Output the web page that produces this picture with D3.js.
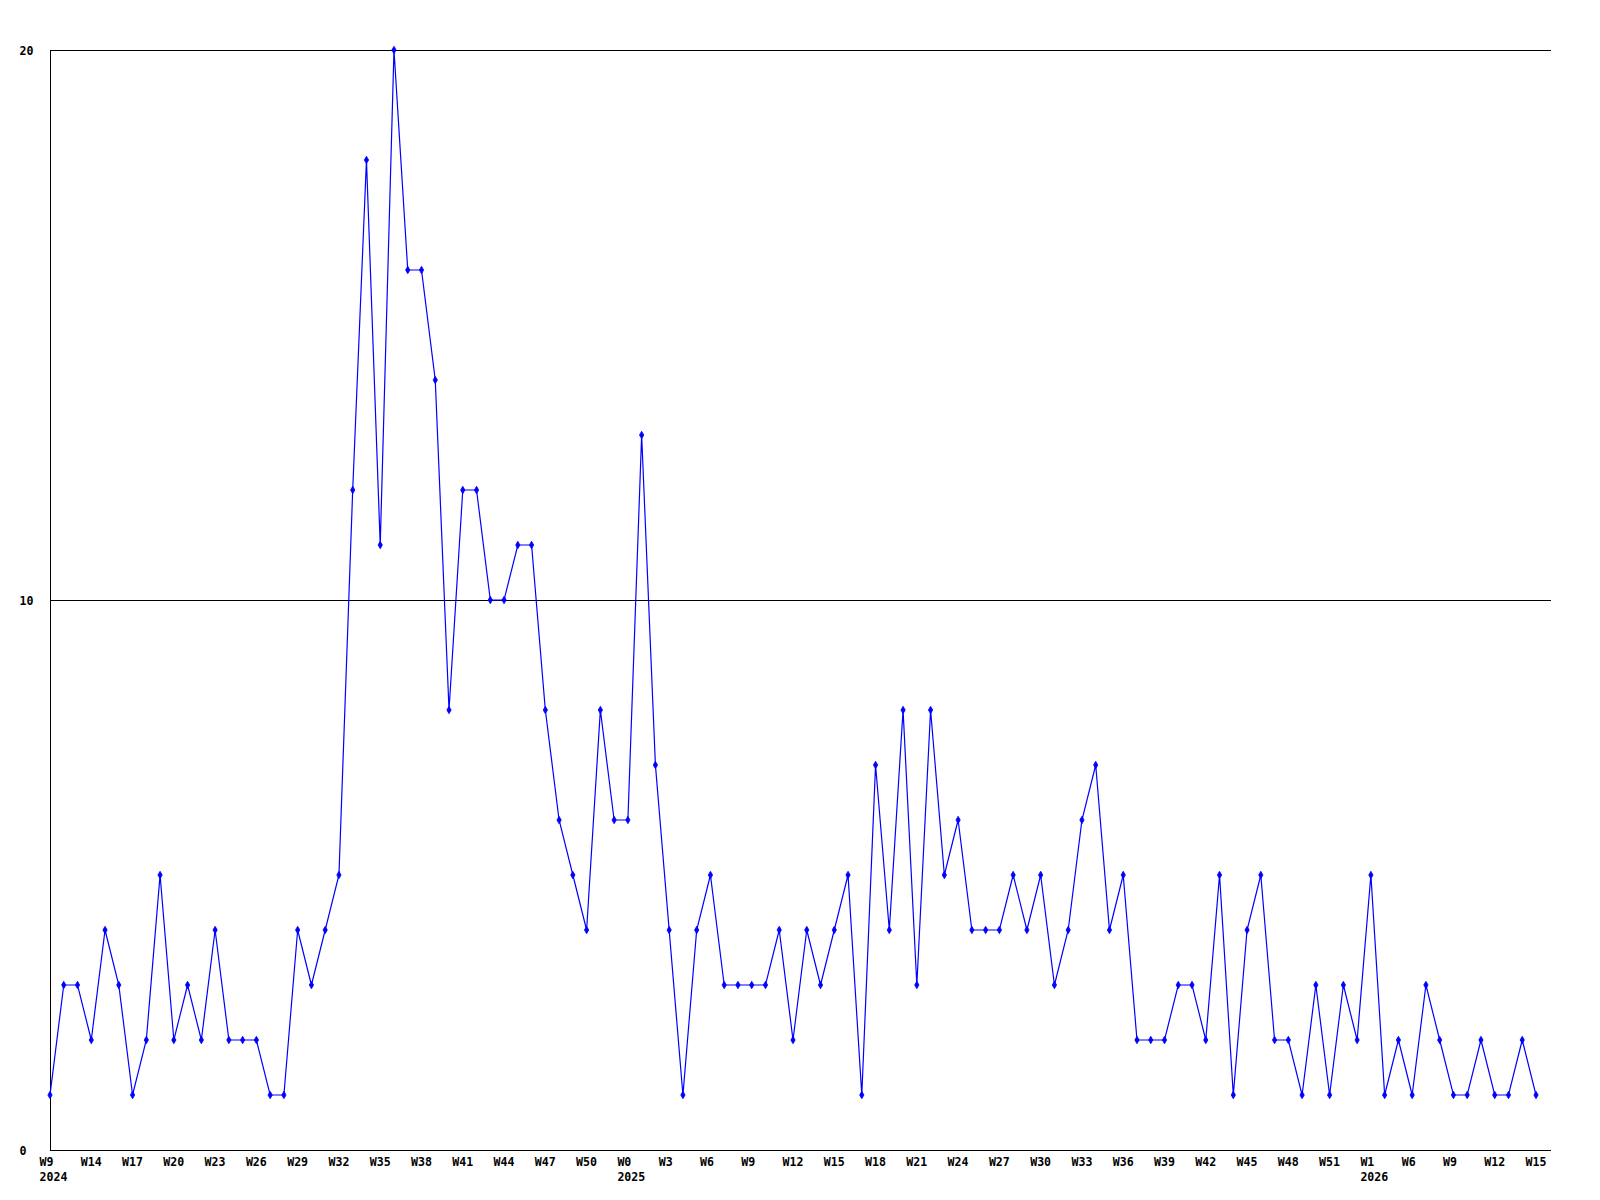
<!DOCTYPE html>
<html>
<head>
<meta charset="utf-8">
<script src="https://cdn.jsdelivr.net/npm/d3@7"></script>
<style>
  html, body { margin: 0; padding: 0; background: #ffffff; }
  svg { display: block; }
  text { font-family: "DejaVu Sans Mono", "Liberation Mono", monospace; font-weight: bold; font-size: 11.6px; fill: #000; }
</style>
</head>
<body>
<svg id="chart" width="1600" height="1200"></svg>
<script>
// ---- data ----
const values = [
  1, 3, 3, 2, 4, 3, 1, 2, 5, 2,
  3, 2, 4, 2, 2, 2, 1, 1, 4, 3,
  4, 5, 12, 18, 11, 20, 16, 16, 14, 8,
  12, 12, 10, 10, 11, 11, 8, 6, 5, 4,
  8, 6, 6, 13, 7, 4, 1, 4, 5, 3,
  3, 3, 3, 4, 2, 4, 3, 4, 5, 1,
  7, 4, 8, 3, 8, 5, 6, 4, 4, 4,
  5, 4, 5, 3, 4, 6, 7, 4, 5, 2,
  2, 2, 3, 3, 2, 5, 1, 4, 5, 2,
  2, 1, 3, 1, 3, 2, 5, 1, 2, 1,
  3, 2, 1, 1, 2, 1, 1, 2, 1
];
const weekLabels = [
  "W9","W14","W17","W20","W23","W26","W29","W32","W35","W38","W41","W44","W47","W50",
  "W0","W3","W6","W9","W12","W15","W18","W21","W24","W27","W30","W33","W36","W39","W42","W45","W48","W51",
  "W1","W6","W9","W12","W15"
];
const labelStep = 3; // one week label every 3 points
const yearLabels = [
  { label: "2024", at: 0 },
  { label: "2025", at: 14 },
  { label: "2026", at: 32 }
];
const yTicks = [0, 10, 20];

// ---- layout ----
const svg = d3.select("#chart");
const plotLeft = 50, plotRight = 1551, plotTop = 50, plotBottom = 1150;
const charW = 7;

const x = d3.scaleLinear().domain([0, values.length - 1]).range([plotLeft, 1536]);
const y = d3.scaleLinear().domain([0, 20]).range([plotBottom, plotTop]);

// gridlines (10, 20)
svg.append("g").selectAll("line")
  .data(yTicks.filter(d => d > 0))
  .join("line")
  .attr("x1", plotLeft).attr("x2", plotRight)
  .attr("y1", d => Math.round(y(d)) + 0.5).attr("y2", d => Math.round(y(d)) + 0.5)
  .attr("stroke", "#000").attr("stroke-width", 1);

// axes
svg.append("line")
  .attr("x1", plotLeft + 0.5).attr("x2", plotLeft + 0.5)
  .attr("y1", plotTop).attr("y2", plotBottom + 1)
  .attr("stroke", "#000");
svg.append("line")
  .attr("x1", plotLeft).attr("x2", plotRight)
  .attr("y1", plotBottom + 0.5).attr("y2", plotBottom + 0.5)
  .attr("stroke", "#000");

// y labels
svg.append("g").selectAll("text")
  .data(yTicks)
  .join("text")
  .attr("x", 19.5)
  .attr("y", d => y(d) + 1)
  .attr("dy", "0.36em")
  .text(d => d);

// x week labels (centered in a 3-character field)
svg.append("g").selectAll("text")
  .data(weekLabels)
  .join("text")
  .attr("x", (d, i) => x(i * labelStep) - 1.5 * charW)
  .attr("y", 1166)
  .text(d => d);

// year labels
svg.append("g").selectAll("text")
  .data(yearLabels)
  .join("text")
  .attr("x", d => x(d.at * labelStep) - 1.5 * charW)
  .attr("y", 1181)
  .text(d => d.label);

// line
const line = d3.line().x((d, i) => x(i)).y(d => y(d));
svg.append("path")
  .datum(values)
  .attr("d", line)
  .attr("fill", "none")
  .attr("stroke", "#0000ff")
  .attr("stroke-width", 1.2);

// markers
const diamond = d3.symbol().type(d3.symbolDiamond).size(16);
svg.append("g").selectAll("path")
  .data(values)
  .join("path")
  .attr("transform", (d, i) => `translate(${x(i)},${y(d)})`)
  .attr("d", diamond)
  .attr("fill", "#0000ff")
  .attr("stroke", "#0000ff")
  .attr("stroke-width", 0.8);
</script>
</body>
</html>
